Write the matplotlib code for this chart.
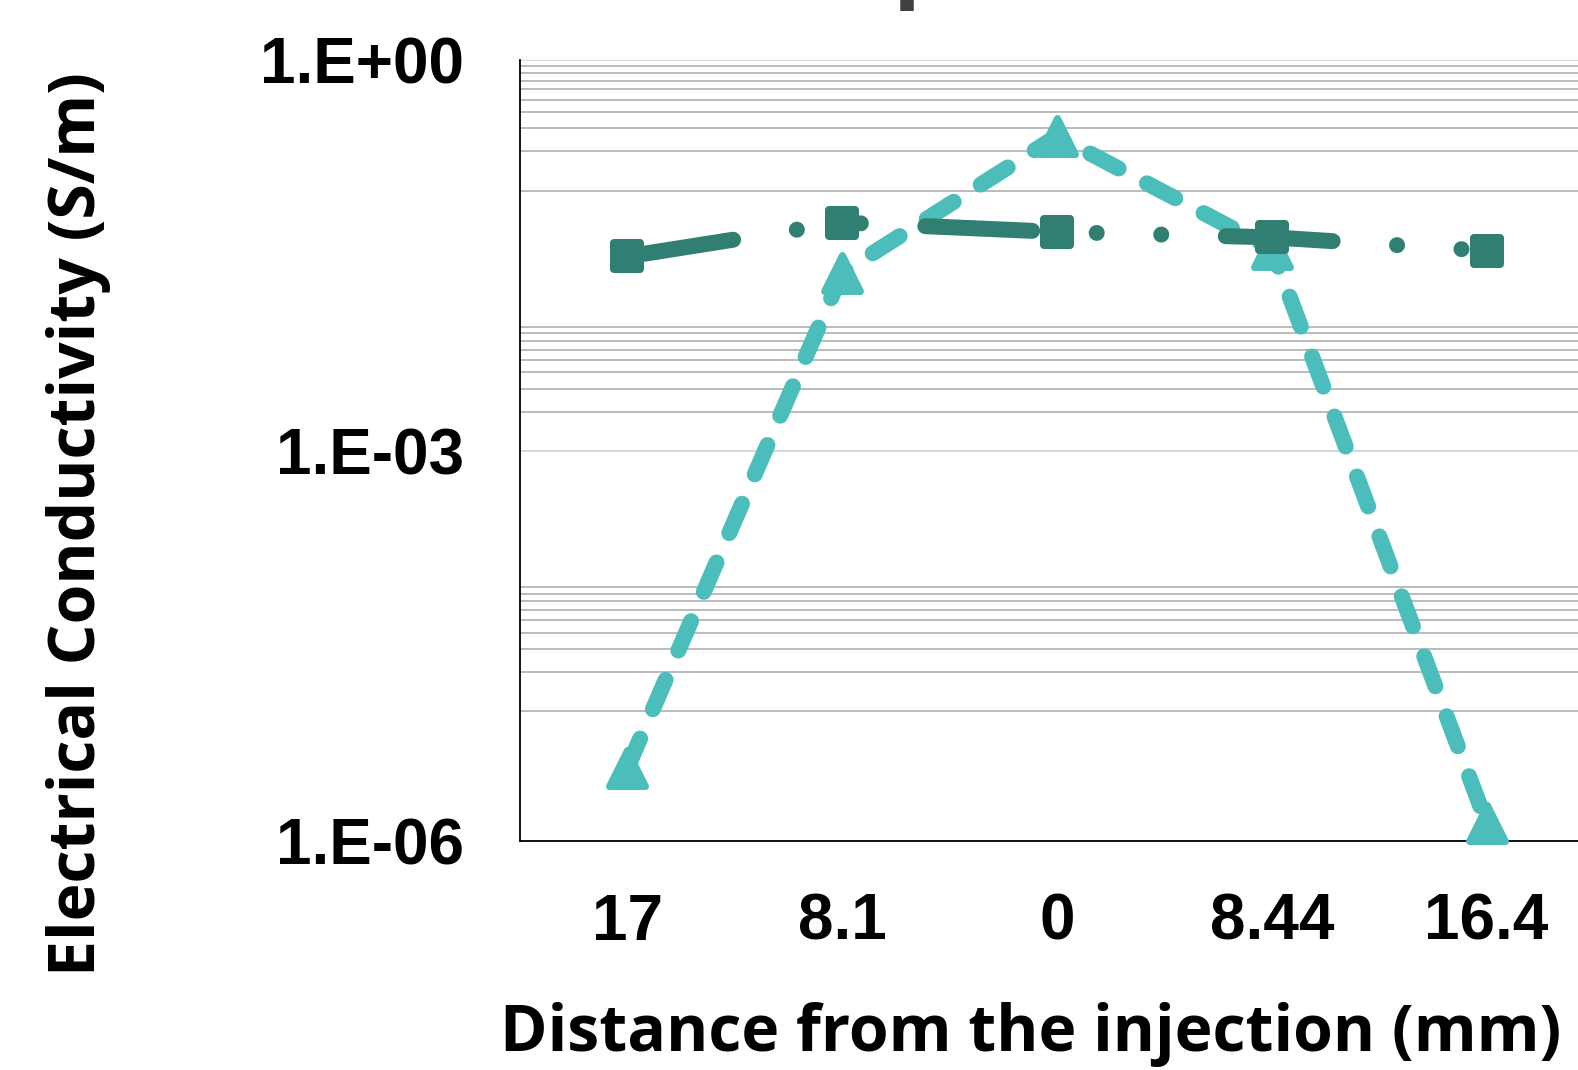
import matplotlib
matplotlib.use("Agg")
import matplotlib.pyplot as plt
from matplotlib.markers import MarkerStyle
from matplotlib.ticker import FixedLocator, NullFormatter

# ---------------- data ----------------
categories = ["17", "8.1", "0", "8.44", "16.4"]
series_a = [0.0312, 0.0568, 0.0481, 0.0437, 0.0345]      # dark teal, squares
series_b = [3.66e-6, 0.0234, 0.262, 0.0356, 1.38e-6]     # light teal, triangles
major_ticks = [1e-6, 1e-3, 1e0]
major_labels = ["1.E-06", "1.E-03", "1.E+00"]
minor_grid = ([k * 1e-5 for k in range(1, 10)]
              + [k * 1e-3 for k in range(2, 10)]
              + [k * 1e-1 for k in range(1, 10)])
title_fragment = "p"
xlabel = "Distance from the injection (mm)"
ylabel = "Electrical Conductivity (S/m)"

# ---------------- style ----------------
plt.rcParams['lines.scale_dashes'] = False
W, H = 1578, 1070
fig = plt.figure(figsize=(W / 100, H / 100), dpi=100)
fig.patch.set_facecolor("white")

ax_left, ax_right = 520 / W, 1594 / W
ax_top, ax_bot = 1 - 60.4 / H, 1 - 841.3 / H
ax = fig.add_axes([ax_left, ax_bot, ax_right - ax_left, ax_top - ax_bot])

dark = "#307F72"
light = "#4BBDBA"
x = list(range(len(categories)))

px = 0.72  # points per pixel at dpi 100
lw_px = 16
ax.plot(x, series_b, color=light, lw=lw_px * px,
        linestyle=(0, (32 * px, 32 * px)), dash_capstyle="round",
        solid_capstyle="round", dash_joinstyle="round",
        marker=MarkerStyle("^", joinstyle="round"), markersize=36 * px,
        markeredgewidth=7 * px, markerfacecolor=light, markeredgecolor=light,
        zorder=3, clip_on=False)
ax.plot(x, series_a, color=dark, lw=lw_px * px,
        linestyle=(0, (107 * px, 64.5 * px, 0.05, 64.5 * px, 0.05, 64.5 * px)),
        dash_capstyle="round", solid_capstyle="round", dash_joinstyle="round",
        marker=MarkerStyle("s", joinstyle="round"), markersize=26 * px,
        markeredgewidth=8 * px, markerfacecolor=dark, markeredgecolor=dark,
        zorder=4, clip_on=False)

ax.set_yscale("log")
ax.set_ylim(1e-6, 1)
ax.set_xlim(-0.5, len(categories) - 0.5)

ax.yaxis.set_major_locator(FixedLocator(major_ticks))
ax.set_yticklabels(major_labels)
ax.yaxis.set_minor_locator(FixedLocator(minor_grid))
ax.yaxis.set_minor_formatter(NullFormatter())
ax.set_xticks(x)
ax.set_xticklabels(categories)

ax.grid(axis="y", which="major", color="#D4D4D4", lw=1.3)
ax.grid(axis="y", which="minor", color="#B5B5B5", lw=1.3)
ax.set_axisbelow(True)

for s in ["top", "right"]:
    ax.spines[s].set_visible(False)
for s in ["left", "bottom"]:
    ax.spines[s].set_color("black")
    ax.spines[s].set_linewidth(1.3)

tick_size = 46
ax.tick_params(axis="both", which="both", length=0)
ax.tick_params(axis="y", pad=40)
ax.tick_params(axis="x", pad=37)
for lab in ax.get_xticklabels() + ax.get_yticklabels():
    lab.set_fontfamily("Liberation Sans")
    lab.set_fontweight("bold")
    lab.set_fontsize(tick_size)
    lab.set_color("black")

label_font = dict(family="Open Sans", weight="bold", size=46.3, color="black")
ax.set_xlabel(xlabel, **label_font)
ax.xaxis.set_label_coords(1030.5 / W, 19 / H, transform=fig.transFigure)
ax.xaxis.label.set_va("baseline")
ax.set_ylabel(ylabel, **label_font)
ax.yaxis.set_label_coords(78.5 / W, 1 - 524 / H, transform=fig.transFigure)
ax.yaxis.label.set_va("center")

fig.text(893 / W, 1 + 11 / H, title_fragment, family="Open Sans",
         weight="bold", size=67, color="#404040", ha="left", va="baseline")

fig.savefig("out.png", dpi=100, facecolor="white")
